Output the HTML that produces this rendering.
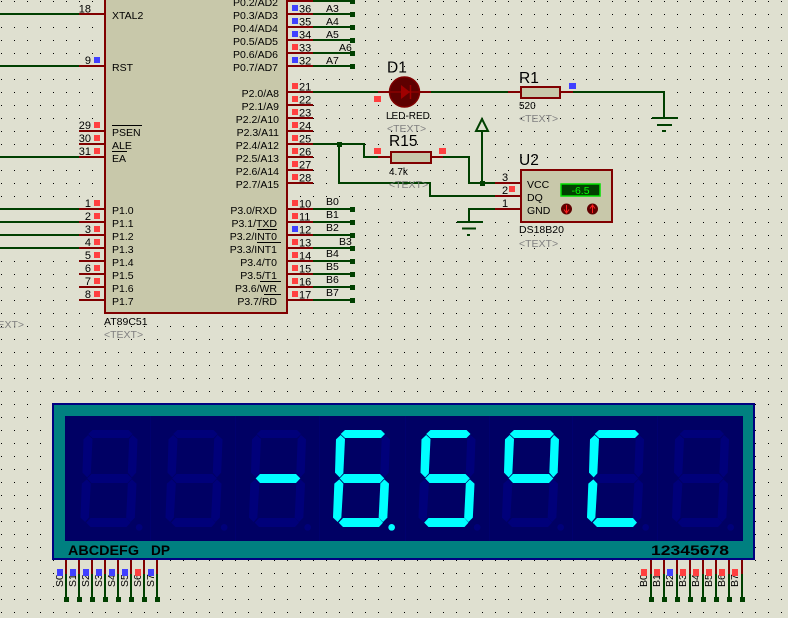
<!DOCTYPE html>
<html><head><meta charset="utf-8"><style>
html,body{margin:0;padding:0;background:#dfe0d0}
svg{display:block}
text{font-family:"Liberation Sans",sans-serif;fill:#000}
.r{stroke:#800000;stroke-width:2;fill:none}
.g{stroke:#004000;stroke-width:2;fill:none}
.n{font-size:11px}
.l{font-size:10.5px}
.t{font-size:10.5px;fill:#808080}
.b{font-size:15.5px}
.p{fill:#ff4040}
.q{fill:#4040ff}
.d{fill:#004000}
.off{fill:#00007a}
.on{fill:#00ffff}
</style></head><body>
<svg width="788" height="618" viewBox="0 0 788 618" xmlns="http://www.w3.org/2000/svg">
<defs>
<pattern id="grid" width="13" height="13" patternUnits="userSpaceOnUse"><rect x="1" y="1" width="1" height="1" fill="#000"/></pattern>
<polygon id="sA" points="122,117 135,105 243,105 255,117 243,129 135,129"/>
<polygon id="sB" points="255,120 270,133 266,233 253,247 241,233 245,132"/>
<polygon id="sC" points="253,253 267,266 262,368 249,381 236,368 241,266"/>
<polygon id="sD" points="116,383 129,369 237,369 249,383 237,396 129,396"/>
<polygon id="sE" points="118,253 130,266 124,368 113,381 99,368 103,266"/>
<polygon id="sF" points="122,120 135,132 130,235 119,247 105,233 108,133"/>
<polygon id="sG" points="119,250 132,237 240,237 253,250 240,264 132,264"/>
<circle id="sP" cx="275" cy="397" r="10"/>
<g id="alloff" class="off"><use href="#sA"/><use href="#sB"/><use href="#sC"/><use href="#sD"/><use href="#sE"/><use href="#sF"/><use href="#sG"/><use href="#sP"/></g>
</defs>
<rect width="788" height="618" fill="#dfe0d0"/>
<rect width="788" height="618" fill="url(#grid)"/>

<!-- chip -->
<rect x="105" y="-10" width="182" height="323" fill="#c8c8aa" stroke="#800000" stroke-width="2"/>

<!-- left wires -->
<path class="g" d="M0 14H79M0 66H79M0 157H79M0 209H79M0 222H79M0 235H79M0 248H79"/>
<!-- left pins -->
<path class="r" d="M79 14H105M79 66H105M79 131H105M79 144H105M79 157H105M79 209H105M79 222H105M79 235H105M79 248H105M79 261H105M79 274H105M79 287H105M79 300H105"/>
<!-- right pins -->
<path class="r" d="M287 1H313M287 14H313M287 27H313M287 40H313M287 53H313M287 66H313M287 92H313M287 105H313M287 118H313M287 131H313M287 144H313M287 157H313M287 170H313M287 183H313M287 209H313M287 222H313M287 235H313M287 248H313M287 261H313M287 274H313M287 287H313M287 300H313"/>
<!-- bus wires -->
<path class="g" d="M313 1H352M313 14H352M313 27H352M313 40H352M313 53H352M313 66H352M313 209H352M313 222H352M313 235H352M313 248H352M313 261H352M313 274H352M313 287H352M313 300H352"/>
<g class="d">
<rect x="350" y="-1" width="5" height="5"/><rect x="350" y="12" width="5" height="5"/><rect x="350" y="25" width="5" height="5"/><rect x="350" y="38" width="5" height="5"/><rect x="350" y="51" width="5" height="5"/><rect x="350" y="64" width="5" height="5"/>
<rect x="350" y="207" width="5" height="5"/><rect x="350" y="220" width="5" height="5"/><rect x="350" y="233" width="5" height="5"/><rect x="350" y="246" width="5" height="5"/><rect x="350" y="259" width="5" height="5"/><rect x="350" y="272" width="5" height="5"/><rect x="350" y="285" width="5" height="5"/><rect x="350" y="298" width="5" height="5"/>
</g>

<!-- left numbers -->
<g class="n" text-anchor="end">
<text x="91" y="12.5">18</text><text x="91" y="64">9</text><text x="91" y="129">29</text><text x="91" y="142">30</text><text x="91" y="155">31</text>
<text x="91" y="207">1</text><text x="91" y="220">2</text><text x="91" y="233">3</text><text x="91" y="246">4</text><text x="91" y="259">5</text><text x="91" y="272">6</text><text x="91" y="285">7</text><text x="91" y="298">8</text>
</g>
<!-- left labels -->
<g class="l">
<text x="112" y="19">XTAL2</text><text x="112" y="71">RST</text><text x="112" y="136">PSEN</text><text x="112" y="149">ALE</text><text x="112" y="162">EA</text>
<text x="112" y="214">P1.0</text><text x="112" y="227">P1.1</text><text x="112" y="240">P1.2</text><text x="112" y="253">P1.3</text><text x="112" y="266">P1.4</text><text x="112" y="279">P1.5</text><text x="112" y="292">P1.6</text><text x="112" y="305">P1.7</text>
</g>
<!-- right labels -->
<g class="l" text-anchor="end">
<text x="278" y="6">P0.2/AD2</text><text x="278" y="19">P0.3/AD3</text><text x="278" y="32">P0.4/AD4</text><text x="278" y="45">P0.5/AD5</text><text x="278" y="58">P0.6/AD6</text><text x="278" y="71">P0.7/AD7</text>
<text x="279" y="97">P2.0/A8</text><text x="279" y="110">P2.1/A9</text><text x="279" y="123">P2.2/A10</text><text x="279" y="136">P2.3/A11</text><text x="279" y="149">P2.4/A12</text><text x="279" y="162">P2.5/A13</text><text x="279" y="175">P2.6/A14</text><text x="279" y="188">P2.7/A15</text>
<text x="277" y="214">P3.0/RXD</text><text x="277" y="227">P3.1/TXD</text><text x="277" y="240">P3.2/INT0</text><text x="277" y="253">P3.3/INT1</text><text x="277" y="266">P3.4/T0</text><text x="277" y="279">P3.5/T1</text><text x="277" y="292">P3.6/WR</text><text x="277" y="305">P3.7/RD</text>
</g>
<!-- overlines -->
<path d="M112 125.5H142M112 151.5H127M257 229.5H277M257 242.5H281M260 281.5H281M264 294.5H281" stroke="#000" stroke-width="1" fill="none"/>
<!-- right numbers -->
<g class="n">
<text x="299" y="12.5">36</text><text x="299" y="25.5">35</text><text x="299" y="38.5">34</text><text x="299" y="51.5">33</text><text x="299" y="64.5">32</text>
<text x="299" y="90.5">21</text><text x="299" y="103.5">22</text><text x="299" y="116.5">23</text><text x="299" y="129.5">24</text><text x="299" y="142.5">25</text><text x="299" y="155.5">26</text><text x="299" y="168.5">27</text><text x="299" y="181.5">28</text>
<text x="299" y="207.5">10</text><text x="299" y="220.5">11</text><text x="299" y="233.5">12</text><text x="299" y="246.5">13</text><text x="299" y="259.5">14</text><text x="299" y="272.5">15</text><text x="299" y="285.5">16</text><text x="299" y="298.5">17</text>
</g>
<!-- bus labels -->
<g class="l">
<text x="326" y="12">A3</text><text x="326" y="25">A4</text><text x="326" y="38">A5</text><text x="339" y="51">A6</text><text x="326" y="64">A7</text>
<text x="326" y="205">B0</text><text x="326" y="218">B1</text><text x="326" y="231">B2</text><text x="339" y="245">B3</text><text x="326" y="257">B4</text><text x="326" y="270">B5</text><text x="326" y="283">B6</text><text x="326" y="296">B7</text>
</g>
<text class="l" x="104" y="325">AT89C51</text>
<text class="t" x="104" y="338">&lt;TEXT&gt;</text>
<text class="t" x="24" y="328" text-anchor="end">&lt;TEXT&gt;</text>

<!-- test squares left -->
<g class="q"><rect x="94" y="57" width="6" height="6"/></g>
<g class="p">
<rect x="94" y="122" width="6" height="6"/><rect x="94" y="135" width="6" height="6"/><rect x="94" y="148" width="6" height="6"/>
<rect x="94" y="200" width="6" height="6"/><rect x="94" y="213" width="6" height="6"/><rect x="94" y="226" width="6" height="6"/><rect x="94" y="239" width="6" height="6"/><rect x="94" y="252" width="6" height="6"/><rect x="94" y="265" width="6" height="6"/><rect x="94" y="278" width="6" height="6"/><rect x="94" y="291" width="6" height="6"/>
</g>
<!-- test squares right -->
<g class="q"><rect x="292" y="5" width="6" height="6"/><rect x="292" y="18" width="6" height="6"/><rect x="292" y="31" width="6" height="6"/><rect x="292" y="57" width="6" height="6"/><rect x="292" y="226" width="6" height="6"/></g>
<g class="p">
<rect x="292" y="44" width="6" height="6"/>
<rect x="292" y="83" width="6" height="6"/><rect x="292" y="96" width="6" height="6"/><rect x="292" y="109" width="6" height="6"/><rect x="292" y="122" width="6" height="6"/><rect x="292" y="135" width="6" height="6"/><rect x="292" y="148" width="6" height="6"/><rect x="292" y="161" width="6" height="6"/><rect x="292" y="174" width="6" height="6"/>
<rect x="292" y="200" width="6" height="6"/><rect x="292" y="213" width="6" height="6"/><rect x="292" y="239" width="6" height="6"/><rect x="292" y="252" width="6" height="6"/><rect x="292" y="265" width="6" height="6"/><rect x="292" y="278" width="6" height="6"/><rect x="292" y="291" width="6" height="6"/>
</g>

<!-- wires middle -->
<path class="g" d="M313 92H378M431 92H508M573 92H664V117"/>
<path class="r" d="M378 92H389M420 92H431M508 92H521M560 92H573"/>
<path class="g" d="M313 144H364V157H378M443 157H469V183H495M339 144V183H430V196H495M482 183V131M495 209H469V222"/>
<path class="r" d="M378 157H391M431 157H443M495 183H521M495 196H521M495 209H521"/>
<rect x="337" y="142" width="5" height="5" fill="#004000"/>
<rect x="480" y="181" width="5" height="5" fill="#004000"/>
<polygon points="482,119 476,131 488,131" fill="none" stroke="#004000" stroke-width="2"/>

<!-- grounds -->
<path class="g" d="M652 118H678M657 125H672M662 131H666"/>
<path class="g" d="M457 222H483M462 228.500H476M467 235H470"/>

<!-- LED -->
<circle cx="404.500" cy="92" r="15" fill="#5e0000" stroke="#800000" stroke-width="1.500"/>
<path d="M389 92H420" stroke="#800000" stroke-width="2"/>
<polygon points="401,85 401,99 410,92" fill="#a00000"/>
<path d="M410.500 85V99" stroke="#a00000" stroke-width="1.500"/>
<rect x="374" y="96" width="7" height="6" class="p"/>
<text class="b" x="387" y="72.500">D1</text>
<text x="386" y="119" style="font-size:10px">LED-RED</text>
<text class="t" x="387" y="132">&lt;TEXT&gt;</text>

<!-- R1 -->
<rect x="521" y="87" width="39" height="11" fill="#c8c8aa" stroke="#800000" stroke-width="2"/>
<rect x="569" y="83" width="7" height="6" class="q"/>
<text class="b" x="519" y="83">R1</text>
<text x="519" y="109" style="font-size:10px">520</text>
<text class="t" x="519" y="122">&lt;TEXT&gt;</text>

<!-- R15 -->
<rect x="391" y="152" width="40" height="11" fill="#c8c8aa" stroke="#800000" stroke-width="2"/>
<rect x="374" y="148" width="7" height="6" class="p"/>
<rect x="439" y="148" width="7" height="6" class="p"/>
<text class="b" x="389" y="146">R15</text>
<text x="389" y="175" style="font-size:10px">4.7k</text>
<text class="t" x="389" y="188">&lt;TEXT&gt;</text>

<!-- U2 -->
<rect x="521" y="170" width="91" height="52" fill="#c8c8aa" stroke="#800000" stroke-width="2"/>
<text class="b" x="519" y="165">U2</text>
<text class="l" x="527" y="188">VCC</text>
<text class="l" x="527" y="201">DQ</text>
<text class="l" x="527" y="214">GND</text>
<text class="n" x="502" y="181">3</text>
<text class="n" x="502" y="194">2</text>
<text class="n" x="502" y="207">1</text>
<rect x="509" y="186" width="6" height="6" class="p"/>
<rect x="561" y="184" width="39" height="12" fill="#004000" stroke="#00e000" stroke-width="1.500"/>
<text x="580.500" y="194" text-anchor="middle" style="font-size:10.500px;fill:#00ff00">-6.5</text>
<circle cx="566.500" cy="209" r="5.500" fill="#600000"/>
<path d="M566.500 205V212M564 209.500L566.500 213L569 209.500" stroke="#ff2020" stroke-width="1" fill="none"/>
<circle cx="592.500" cy="209" r="5.500" fill="#600000"/>
<path d="M592.500 213V206M590 208.500L592.500 205L595 208.500" stroke="#ff2020" stroke-width="1" fill="none"/>
<text class="l" x="519" y="233">DS18B20</text>
<text class="t" x="519" y="247">&lt;TEXT&gt;</text>

<!-- display -->
<rect x="53" y="404" width="701" height="155" fill="#008080" stroke="#000080" stroke-width="2"/>
<rect x="65" y="416" width="678" height="125" fill="#000064"/>
<path d="M150.500 416V541M235.500 416V541M319.500 416V541M405.500 416V541M489.500 416V541M572.500 416V541M657.500 416V541" stroke="#00006e" stroke-width="1"/>
<g transform="translate(47.500,395) scale(.33333)"><use href="#alloff"/></g>
<g transform="translate(132.500,395) scale(.33333)"><use href="#alloff"/></g>
<g transform="translate(216,395) scale(.33333)"><use href="#alloff"/><g class="on"><use href="#sG"/></g></g>
<g transform="translate(300,395) scale(.33333)"><use href="#alloff"/><g class="on"><use href="#sA"/><use href="#sC"/><use href="#sD"/><use href="#sE"/><use href="#sF"/><use href="#sG"/><use href="#sP"/></g></g>
<g transform="translate(385.500,395) scale(.33333)"><use href="#alloff"/><g class="on"><use href="#sA"/><use href="#sC"/><use href="#sD"/><use href="#sF"/><use href="#sG"/></g></g>
<g transform="translate(469,395) scale(.33333)"><use href="#alloff"/><g class="on"><use href="#sA"/><use href="#sB"/><use href="#sF"/><use href="#sG"/></g></g>
<g transform="translate(554,395) scale(.33333)"><use href="#alloff"/><g class="on"><use href="#sA"/><use href="#sD"/><use href="#sE"/><use href="#sF"/></g></g>
<g transform="translate(639,395) scale(.33333)"><use href="#alloff"/></g>
<text x="68" y="555" textLength="71" lengthAdjust="spacingAndGlyphs" style="font-size:14px;font-weight:bold">ABCDEFG</text>
<text x="151" y="555" textLength="19" lengthAdjust="spacingAndGlyphs" style="font-size:14px;font-weight:bold">DP</text>
<text x="651" y="555" textLength="78" lengthAdjust="spacingAndGlyphs" style="font-size:13.500px;font-weight:bold">12345678</text>

<!-- bottom pins -->
<path class="r" d="M66 560V574M79 560V574M92 560V574M105 560V574M118 560V574M131 560V574M144 560V574M157 560V574M651 560V574M664 560V574M677 560V574M690 560V574M703 560V574M716 560V574M729 560V574M742 560V574"/>
<path class="g" d="M66 574V599M79 574V599M92 574V599M105 574V599M118 574V599M131 574V599M144 574V599M157 574V599M651 574V599M664 574V599M677 574V599M690 574V599M703 574V599M716 574V599M729 574V599M742 574V599"/>
<g class="d">
<rect x="64" y="597" width="5" height="5"/><rect x="77" y="597" width="5" height="5"/><rect x="90" y="597" width="5" height="5"/><rect x="103" y="597" width="5" height="5"/><rect x="116" y="597" width="5" height="5"/><rect x="129" y="597" width="5" height="5"/><rect x="142" y="597" width="5" height="5"/><rect x="155" y="597" width="5" height="5"/>
<rect x="649" y="597" width="5" height="5"/><rect x="662" y="597" width="5" height="5"/><rect x="675" y="597" width="5" height="5"/><rect x="688" y="597" width="5" height="5"/><rect x="701" y="597" width="5" height="5"/><rect x="714" y="597" width="5" height="5"/><rect x="727" y="597" width="5" height="5"/><rect x="740" y="597" width="5" height="5"/>
</g>
<g style="font-size:10.500px">
<text transform="translate(63,587) rotate(-90)">S0</text><text transform="translate(76,587) rotate(-90)">S1</text><text transform="translate(89,587) rotate(-90)">S2</text><text transform="translate(102,587) rotate(-90)">S3</text><text transform="translate(115,587) rotate(-90)">S4</text><text transform="translate(128,587) rotate(-90)">S5</text><text transform="translate(141,587) rotate(-90)">S6</text><text transform="translate(154,587) rotate(-90)">S7</text>
<text transform="translate(647,587) rotate(-90)">B0</text><text transform="translate(660,587) rotate(-90)">B1</text><text transform="translate(673,587) rotate(-90)">B2</text><text transform="translate(686,587) rotate(-90)">B3</text><text transform="translate(699,587) rotate(-90)">B4</text><text transform="translate(712,587) rotate(-90)">B5</text><text transform="translate(725,587) rotate(-90)">B6</text><text transform="translate(738,587) rotate(-90)">B7</text>
</g>
<g class="q">
<rect x="57" y="569" width="6" height="7"/><rect x="70" y="569" width="6" height="7"/><rect x="83" y="569" width="6" height="7"/><rect x="96" y="569" width="6" height="7"/><rect x="109" y="569" width="6" height="7"/><rect x="122" y="569" width="6" height="7"/><rect x="148" y="569" width="6" height="7"/><rect x="667" y="569" width="6" height="7"/>
</g>
<g class="p">
<rect x="135" y="569" width="6" height="7"/>
<rect x="641" y="569" width="6" height="7"/><rect x="654" y="569" width="6" height="7"/><rect x="680" y="569" width="6" height="7"/><rect x="693" y="569" width="6" height="7"/><rect x="706" y="569" width="6" height="7"/><rect x="719" y="569" width="6" height="7"/><rect x="732" y="569" width="6" height="7"/>
</g>
</svg>
</body></html>
